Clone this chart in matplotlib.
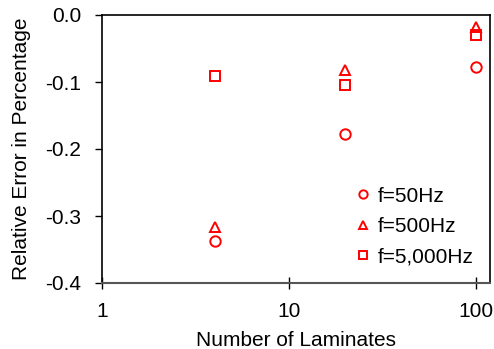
import matplotlib.pyplot as plt
import numpy as np

plt.rcParams["font.family"] = ["Liberation Sans", "DejaVu Sans"]

# number of laminates
laminates = [4, 20, 100]

# relative error (%) for each frequency
err_50 = [-0.338, -0.177, -0.078]
err_500 = [-0.317, -0.082, -0.018]
err_5000 = [-0.091, -0.105, -0.030]

labels = ["f=50Hz", "f=500Hz", "f=5,000Hz"]

fig = plt.figure(figsize=(4.94, 3.49), dpi=100)
ax = fig.add_axes([102 / 494, 66 / 349, 388 / 494, 268 / 349])

red = "#ff0000"
fs = 15
ax.plot(laminates, err_50, "o", ms=7.5, mfc="none", mec=red, mew=1.4, label=labels[0], ls="none")
ax.plot(laminates, err_500, "^", ms=7.5, mfc="none", mec=red, mew=1.4, label=labels[1], ls="none")
ax.plot(laminates, err_5000, "s", ms=6.5, mfc="none", mec=red, mew=1.4, label=labels[2], ls="none")

ax.set_xscale("log")
ax.set_xlim(1, 119)
ax.set_ylim(-0.4, 0.0)
ax.set_xticks([1, 10, 100])
ax.set_xticklabels(["1", "10", "100"])
ax.xaxis.set_minor_locator(plt.NullLocator())
ax.set_yticks(np.arange(-0.4, 0.01, 0.1))
ax.set_yticklabels(["-0.4", "-0.3", "-0.2", "-0.1", "0.0"])

ax.tick_params(axis="y", direction="out", length=5, width=1, labelsize=fs, pad=10)
ax.tick_params(axis="x", direction="inout", length=8, width=1, labelsize=fs, pad=10)

for s in ["left", "top", "right"]:
    ax.spines[s].set_linewidth(1.2)
    ax.spines[s].set_color("black")
ax.spines["bottom"].set_color("#555555")
ax.spines["bottom"].set_linewidth(1.5)

ax.set_xlabel("Number of Laminates", fontsize=fs, labelpad=7)
ax.set_ylabel("Relative Error in Percentage", fontsize=fs, labelpad=10)

ax.legend(loc="lower right", frameon=False, fontsize=fs, handletextpad=0.2,
          handlelength=1.0, markerscale=0.8, borderaxespad=0.2, labelspacing=0.55,
          bbox_to_anchor=(0.99, 0.015))

fig.savefig("out.png", dpi=100)
